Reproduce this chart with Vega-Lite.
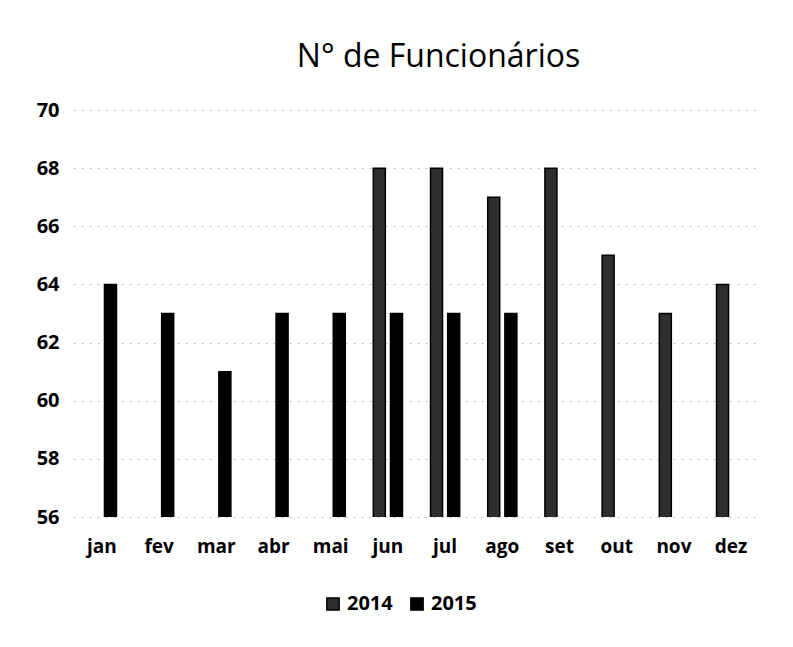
{
  "$schema": "https://vega.github.io/schema/vega-lite/v6.json",
  "autosize": {"type": "fit", "contains": "padding"},
  "width": 793,
  "height": 647,
  "padding": {"left": 36, "right": 33, "top": 41, "bottom": 91},
  "background": "white",
  "title": {"text": "N° de Funcionários", "font": "Open Sans", "fontSize": 32, "fontWeight": "normal", "color": "#000", "offset": 26, "anchor": "middle", "dx": 22},
  "data": {"values": [
    {"mes": "jan", "ano": "2015", "v": 64},
    {"mes": "fev", "ano": "2015", "v": 63},
    {"mes": "mar", "ano": "2015", "v": 61},
    {"mes": "abr", "ano": "2015", "v": 63},
    {"mes": "mai", "ano": "2015", "v": 63},
    {"mes": "jun", "ano": "2014", "v": 68},
    {"mes": "jun", "ano": "2015", "v": 63},
    {"mes": "jul", "ano": "2014", "v": 68},
    {"mes": "jul", "ano": "2015", "v": 63},
    {"mes": "ago", "ano": "2014", "v": 67},
    {"mes": "ago", "ano": "2015", "v": 63},
    {"mes": "set", "ano": "2014", "v": 68},
    {"mes": "out", "ano": "2014", "v": 65},
    {"mes": "nov", "ano": "2014", "v": 63},
    {"mes": "dez", "ano": "2014", "v": 64}
  ]},
  "mark": {"type": "bar", "clip": true, "strokeWidth": 1.5},
  "encoding": {
    "x": {"field": "mes", "type": "nominal", "sort": ["jan","fev","mar","abr","mai","jun","jul","ago","set","out","nov","dez"],
      "scale": {"paddingInner": 0.49, "paddingOuter": 0.25},
      "axis": {"title": null, "labelAngle": 0, "labelFont": "Open Sans", "labelFontSize": 19, "labelFontWeight": "bold", "labelColor": "#000", "ticks": false, "domain": false, "labelPadding": 20, "grid": false}},
    "xOffset": {"field": "ano", "type": "nominal", "scale": {"domain": ["2014","2015"], "paddingInner": 0.3}},
    "y": {"field": "v", "type": "quantitative", "scale": {"domain": [56, 70], "zero": false, "nice": false},
      "axis": {"title": null, "values": [56,58,60,62,64,66,68,70], "labelFont": "Open Sans", "labelFontSize": 20, "labelFontWeight": "bold", "labelColor": "#000", "ticks": false, "domain": false, "labelPadding": 14, "grid": true, "gridColor": "#bbb", "gridDash": [2, 6], "gridWidth": 1}},
    "color": {"field": "ano", "type": "nominal", "scale": {"domain": ["2014","2015"], "range": ["#2e2e2e", "#000000"]},
      "legend": {"orient": "none", "legendX": 250, "legendY": 484, "direction": "horizontal", "title": null, "symbolType": "square", "symbolSize": 150, "symbolStrokeColor": "#000", "labelFont": "Open Sans", "labelFontSize": 20, "labelFontWeight": "bold", "labelColor": "#000", "columnPadding": 14}},
    "stroke": {"value": "#000"}
  },
  "config": {"view": {"stroke": null}}
}
